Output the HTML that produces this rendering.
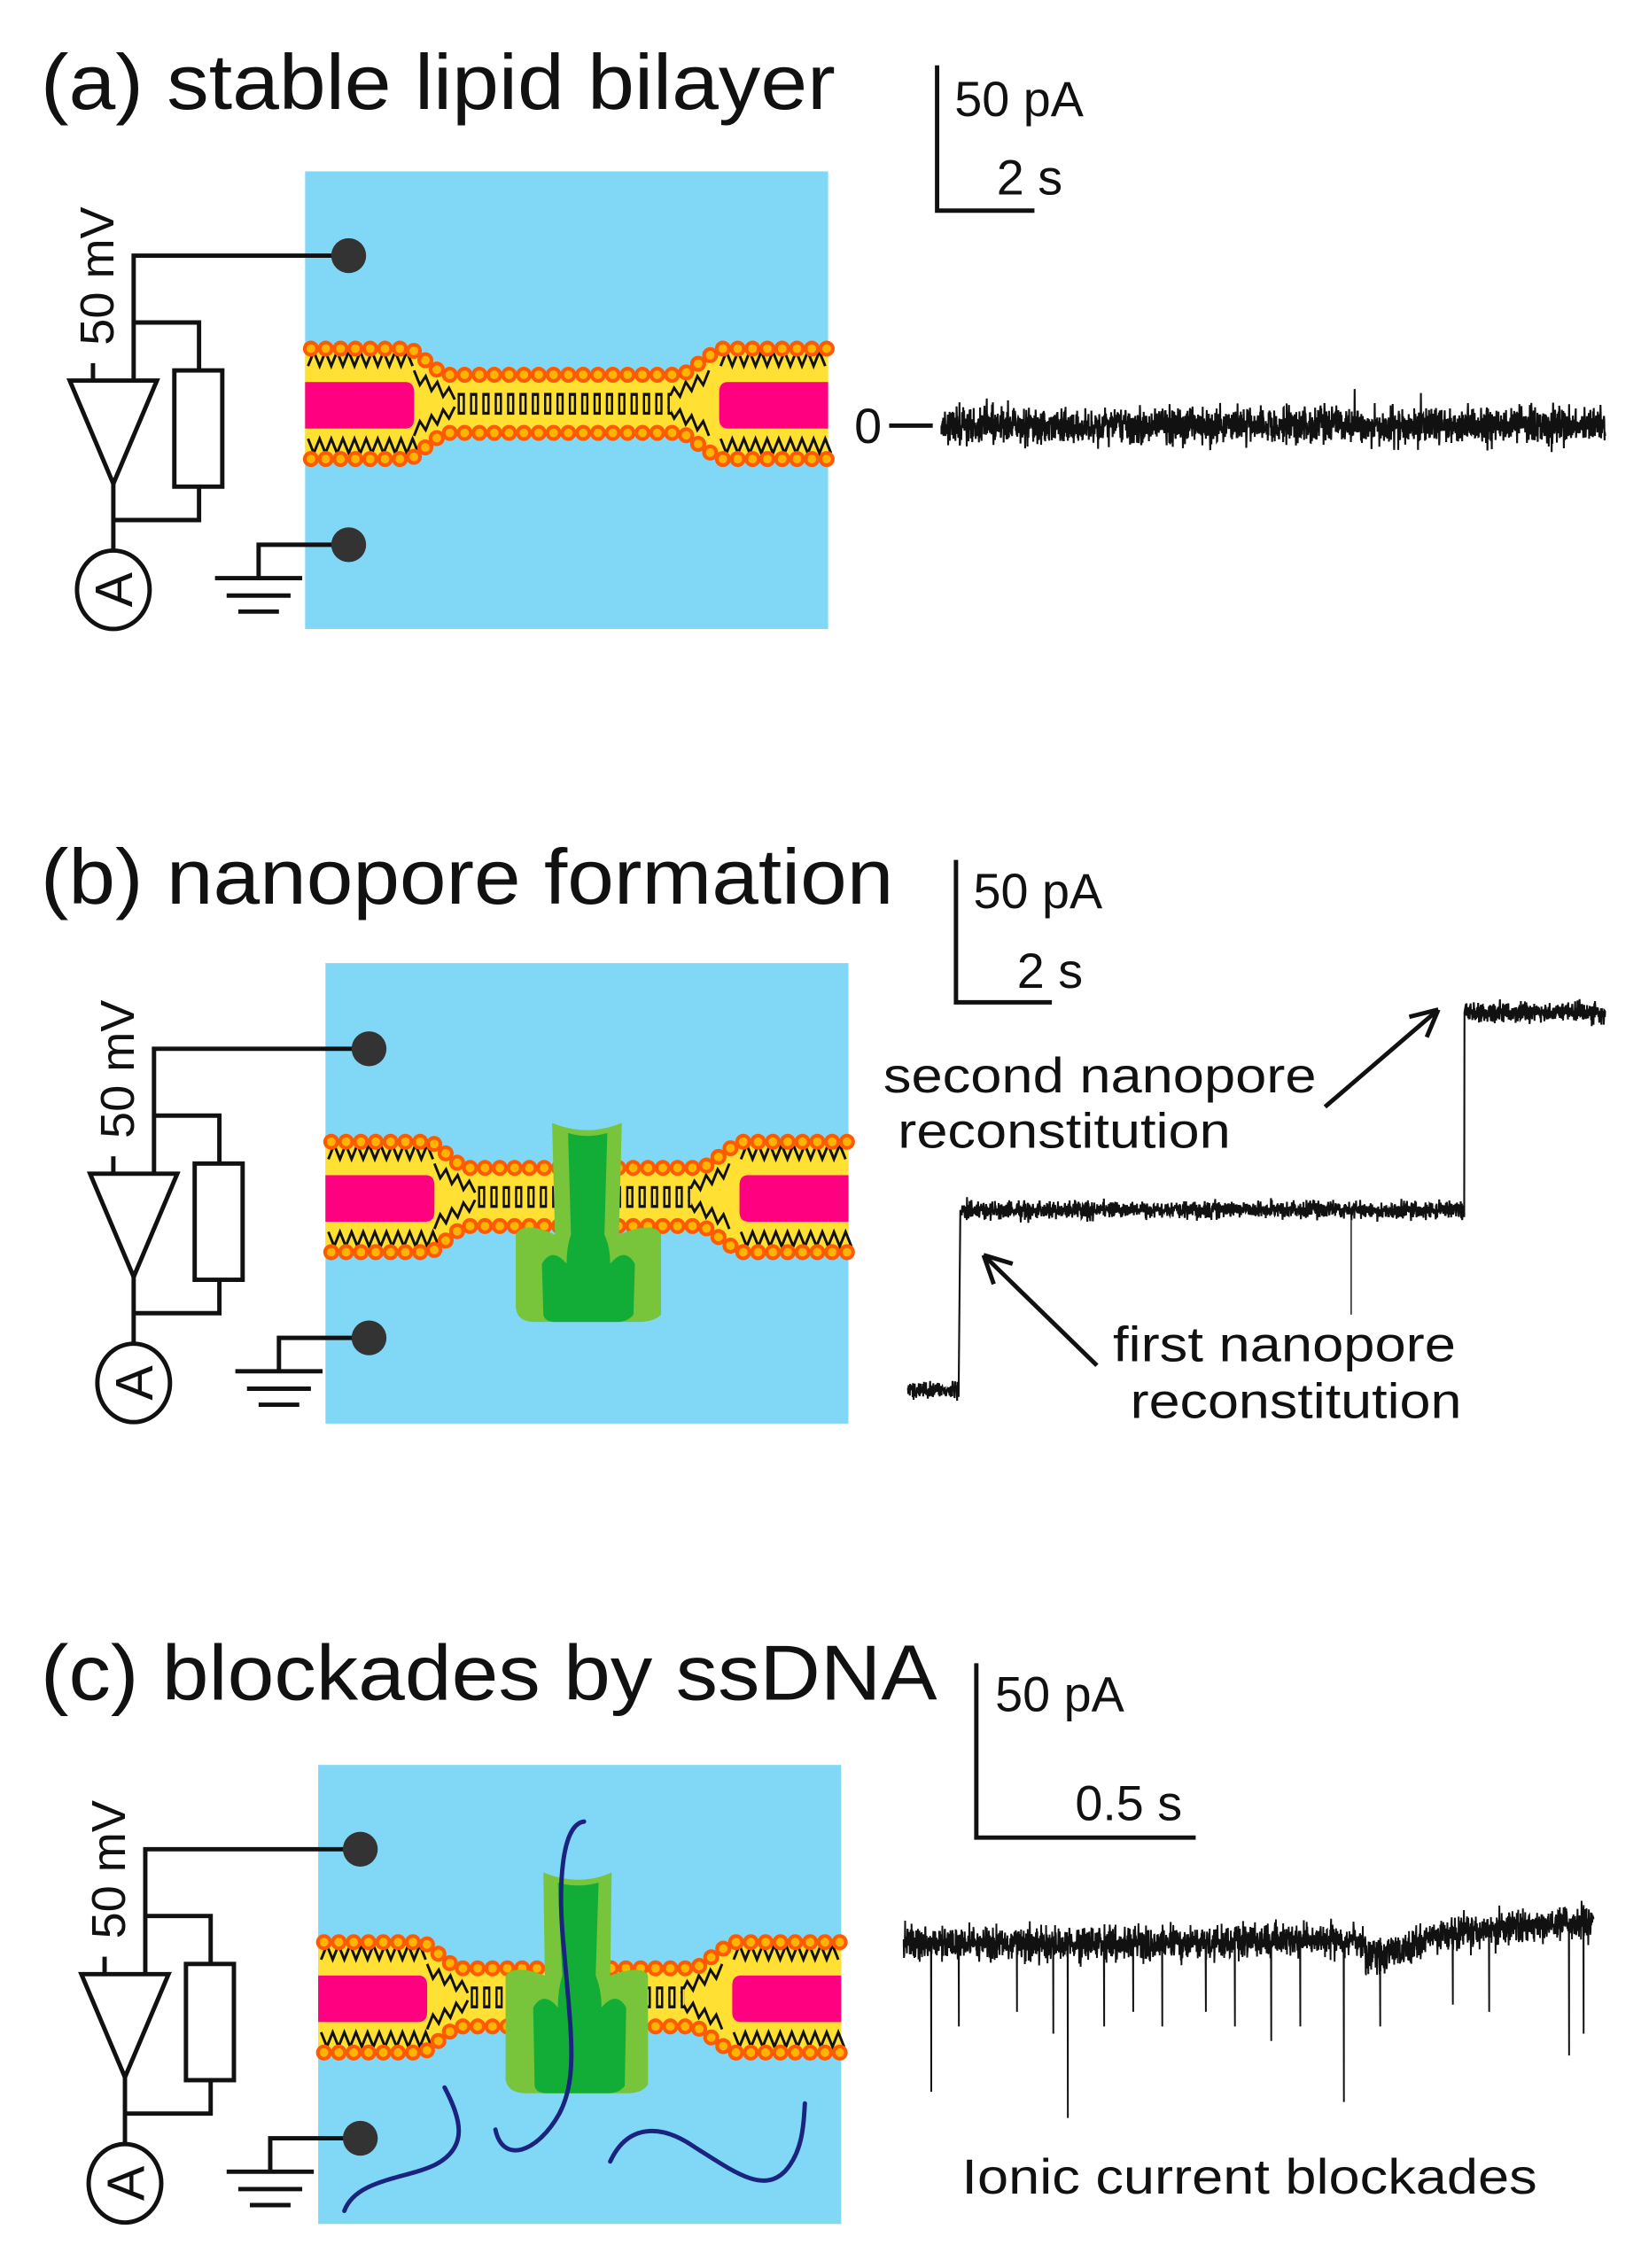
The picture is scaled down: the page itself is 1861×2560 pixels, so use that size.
<!DOCTYPE html>
<html><head><meta charset="utf-8"><style>
html,body{margin:0;padding:0;background:#fff}
svg{display:block}
text{font-family:"Liberation Sans",Arial,sans-serif;fill:#111}
</style></head><body>
<svg id="s" width="1861" height="2560" viewBox="0 0 1135 1561.3" xmlns="http://www.w3.org/2000/svg">
<defs>
<g id="circ" fill="none" stroke="#111" stroke-width="3">
  <path d="M240,176 H92 V262"/>
  <path d="M92,222 H137 V255"/>
  <rect x="120" y="255" width="33" height="80"/>
  <path d="M137,335 V358 H78"/>
  <path d="M48,262 H108 L78,333 Z"/>
  <path d="M64,262 V250"/>
  <path d="M78,333 V380"/>
  <ellipse cx="78" cy="406" rx="25" ry="27"/>
  <path d="M240,375 H178 V398"/>
  <path d="M148,398 H208 M156,410 H200 M164,421 H192"/>
  <circle cx="240" cy="176" r="12" fill="#333" stroke="none"/>
  <circle cx="240" cy="375" r="12" fill="#333" stroke="none"/>
</g>
<g id="mem">
  <path d="M210,240 H283 L305,258 H470 L495,240 H570 V316 H495 L470,298 H305 L283,316 H210 Z" fill="#ffe033"/>
  <path d="M212,252 l4,-10 l4,10 l4,-10 l4,10 l4,-10 l4,10 l4,-10 l4,10 l4,-10 l4,10 l4,-10 l4,10 l4,-10 l4,10 l4,-10 l4,10 l4,-10 l4,10 M496,252 l4,-10 l4,10 l4,-10 l4,10 l4,-10 l4,10 l4,-10 l4,10 l4,-10 l4,10 l4,-10 l4,10 l4,-10 l4,10 l4,-10 l4,10 l4,-10 l4,10
  M212,302 l4,10 l4,-10 l4,10 l4,-10 l4,10 l4,-10 l4,10 l4,-10 l4,10 l4,-10 l4,10 l4,-10 l4,10 l4,-10 l4,10 l4,-10 l4,10 l4,-10 l4,10 M496,302 l4,10 l4,-10 l4,10 l4,-10 l4,10 l4,-10 l4,10 l4,-10 l4,10 l4,-10 l4,10 l4,-10 l4,10 l4,-10 l4,10 l4,-10 l4,10 l4,-10 l4,10
  M285,255 l4,10 l4,-6 l4,10 l4,-6 l4,10 l4,-6 l4,8 M285,300 l4,-10 l4,6 l4,-10 l4,6 l4,-10 l4,6 l4,-8
  M488,255 l-4,10 l-4,-6 l-4,10 l-4,-6 l-4,10 l-4,-6 l-4,8 M488,300 l-4,-10 l-4,6 l-4,-10 l-4,6 l-4,-10 l-4,6 l-4,-8" fill="none" stroke="#111" stroke-width="1.8"/>
  <path d="M315,278 H462" stroke="#111" stroke-width="15" stroke-dasharray="5 3.5" fill="none"/>
  <path d="M315,278 H462" stroke="#ffe033" stroke-width="11" stroke-dasharray="2 6.5" stroke-dashoffset="-1.5" fill="none"/>
  <path d="M210,263 H279 Q285,263 285,270 V288 Q285,295 279,295 H210 Z M570,263 H501 Q495,263 495,270 V288 Q495,295 501,295 H570 Z" fill="#ff0080"/>
  <g fill="none" stroke-linecap="round">
    <path d="M214,240 H283 L305,258 H470 L495,240 H570 M214,316 H283 L305,298 H470 L495,316 H570" stroke="#ff5a00" stroke-width="11" stroke-dasharray="0 10.2"/>
    <path d="M214,240 H283 L305,258 H470 L495,240 H570 M214,316 H283 L305,298 H470 L495,316 H570" stroke="#ffb400" stroke-width="6" stroke-dasharray="0 10.2"/>
  </g>
</g>
</defs>

<text x="28" y="75" font-size="54" textLength="547" lengthAdjust="spacingAndGlyphs">(a) stable lipid bilayer</text>
<rect x="210" y="118" width="360" height="315" fill="#80d8f6"/>
<use href="#mem"/>
<use href="#circ"/>
<text transform="translate(78,190) rotate(-90)" font-size="33" text-anchor="middle">50 mV</text>
<text transform="translate(91,406) rotate(-90)" font-size="36" text-anchor="middle">A</text>
<path d="M645,45 V145 H712" fill="none" stroke="#111" stroke-width="3"/>
<text x="657" y="80" font-size="34">50 pA</text>
<text x="686" y="134" font-size="34">2 s</text>
<text x="588" y="305" font-size="34">0</text>
<path d="M612,293 H642" stroke="#111" stroke-width="3"/>

<text x="28" y="622" font-size="54" textLength="587" lengthAdjust="spacingAndGlyphs">(b) nanopore formation</text>
<rect x="224" y="663" width="360" height="317" fill="#80d8f6"/>
<use href="#mem" transform="translate(14,546)"/>
<g transform="translate(14,546)"><use href="#circ"/></g>
<text transform="translate(92,736) rotate(-90)" font-size="33" text-anchor="middle">50 mV</text>
<text transform="translate(105,952) rotate(-90)" font-size="36" text-anchor="middle">A</text>
<g>
  <path d="M380,773 Q392,778 404,778 Q416,778 428,773 L426,850 Q450,840 455,850 L455,905 Q450,910 440,910 H368 Q356,910 355,900 L355,850 Q360,840 382,850 Z" fill="#78c43a"/>
  <path d="M391,780 Q404,784 418,780 L416,850 Q420,858 420,870 Q430,858 437,870 L436,905 Q432,910 425,910 H382 Q375,910 374,905 L373,870 Q380,858 390,870 Q390,858 393,850 Z" fill="#12ad36"/>
</g>
<path d="M658,592 V690 H724" fill="none" stroke="#111" stroke-width="3"/>
<text x="670" y="625" font-size="34">50 pA</text>
<text x="700" y="680" font-size="34">2 s</text>
<text x="608" y="752" font-size="34" textLength="298" lengthAdjust="spacingAndGlyphs">second nanopore</text>
<text x="618" y="790" font-size="34" textLength="229" lengthAdjust="spacingAndGlyphs">reconstitution</text>
<text x="766" y="937" font-size="34" textLength="236" lengthAdjust="spacingAndGlyphs">first nanopore</text>
<text x="778" y="976" font-size="34" textLength="228" lengthAdjust="spacingAndGlyphs">reconstitution</text>
<path d="M912,762 L990,695 M990,695 L970,700 M990,695 L982,714 M755,940 L677,864 M677,864 L684,884 M677,864 L697,870" fill="none" stroke="#111" stroke-width="3"/>
<path d="M930,840 V905" stroke="#333" stroke-width="1"/>

<text x="28" y="1170" font-size="54" textLength="617" lengthAdjust="spacingAndGlyphs">(c) blockades by ssDNA</text>
<rect x="219" y="1215" width="360" height="316" fill="#80d8f6"/>
<use href="#mem" transform="translate(9,1097)"/>
<g transform="translate(8,1097)"><use href="#circ"/></g>
<text transform="translate(86,1287) rotate(-90)" font-size="33" text-anchor="middle">50 mV</text>
<text transform="translate(99,1503) rotate(-90)" font-size="36" text-anchor="middle">A</text>
<g>
  <path d="M374,1289 Q386,1294 399,1294 Q410,1294 421,1289 L420,1360 Q442,1352 446,1360 L446,1435 Q442,1441 432,1441 H362 Q350,1441 348,1432 L348,1360 Q354,1352 375,1360 Z" fill="#78c43a"/>
  <path d="M384,1296 Q398,1300 412,1296 L410,1360 Q414,1370 414,1382 Q424,1370 431,1382 L430,1436 Q426,1441 419,1441 H376 Q369,1441 368,1436 L367,1382 Q374,1370 384,1382 Q384,1370 387,1360 Z" fill="#12ad36"/>
</g>
<g fill="none" stroke="#1a237e" stroke-width="3" stroke-linecap="round">
  <path d="M402,1254 C386,1256 384,1300 388,1340 C393,1400 398,1430 385,1455 C370,1482 346,1490 341,1466"/>
  <path d="M306,1437 C318,1460 322,1478 300,1490 C280,1500 245,1500 237,1522"/>
  <path d="M420,1488 C432,1462 455,1462 478,1478 C505,1495 525,1510 540,1495 C552,1482 553,1465 554,1448"/>
</g>
<path d="M672,1145 V1265 H823" fill="none" stroke="#111" stroke-width="3"/>
<text x="685" y="1178" font-size="34">50 pA</text>
<text x="740" y="1253" font-size="34">0.5 s</text>
<text x="662" y="1510" font-size="34" textLength="396" lengthAdjust="spacingAndGlyphs">Ionic current blockades</text>

<path id="ta" fill="none" stroke="#111" stroke-width="1.3"/>
<path id="tb" fill="none" stroke="#111" stroke-width="1.3"/>
<path id="tc" fill="none" stroke="#111" stroke-width="1.2"/>
</svg>
<script>
var seed=12345;function r(){seed=(seed*1103515245+12345)%2147483648;return seed/2147483648;}
function g(){return (r()+r()+r()+r()-2)*1.7;}
var d="M648,293";
for(var x=648;x<=1105;x+=0.2){var y=293+g()*6;if(r()<0.02)y+=(r()-0.5)*36;d+="L"+x.toFixed(2)+","+y.toFixed(1);}
document.getElementById("ta").setAttribute("d",d);
d="M625,957";
for(x=625;x<=660;x+=0.2){d+="L"+x.toFixed(2)+","+(957+g()*3).toFixed(1);}
d+="L661,833";
for(x=662;x<=1008;x+=0.2){d+="L"+x.toFixed(2)+","+(833+g()*3).toFixed(1);}
d+="L1008,697";
for(x=1009;x<=1105;x+=0.2){d+="L"+x.toFixed(2)+","+(697+g()*3.5).toFixed(1);}
document.getElementById("tb").setAttribute("d",d);
var sp={641:1440,660:1395,700:1385,725:1400,735:1458,760:1395,780:1385,800:1395,830:1385,850:1395,875:1405,895:1395,925:1447,950:1395,1000:1380,1025:1385,1080:1415,1090:1400};
d="M622,1335";
for(x=622;x<=1097;x+=0.2){
 var b=1338;
 if(x>850&&x<940)b=1336;
 if(x>=940&&x<980)b=1350-(x-940)*0.3;
 if(x>=980)b=1332-(x-980)*0.08;
 var y=b+g()*6;
 var xi=Math.round(x);
 if(sp[xi]&&Math.abs(x-xi)<0.11){d+="L"+x.toFixed(2)+","+sp[xi];}
 d+="L"+x.toFixed(2)+","+y.toFixed(1);
}
document.getElementById("tc").setAttribute("d",d);
</script>
</body></html>
